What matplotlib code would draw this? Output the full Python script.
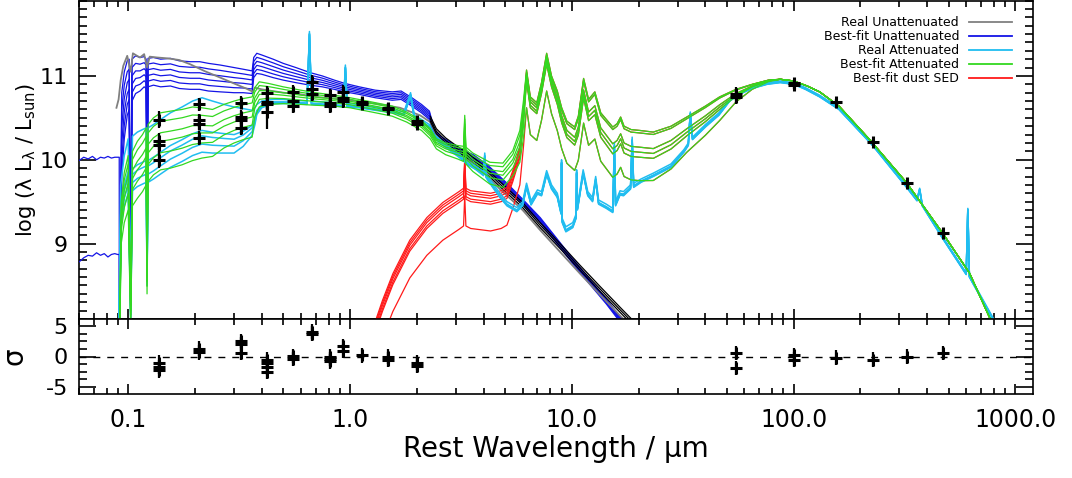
import numpy as np
import matplotlib
matplotlib.use("Agg")
import matplotlib.pyplot as plt
from matplotlib.lines import Line2D
from matplotlib.ticker import FixedLocator, FixedFormatter, LogLocator, NullFormatter, MultipleLocator

plt.rcParams['font.family'] = ['DejaVu Sans']
plt.rcParams['axes.unicode_minus'] = False

################################################################################
## Data
################################################################################

# best-fit unattenuated stellar SED: (lambda [um], top model log L, spread between models)
blue_nodes = [
    (0.0912, 7.60, 0.00), (0.0935, 10.80, 1.00), (0.0960, 11.05, 0.80), (0.0990, 11.18, 0.65),
    (0.1010, 11.20, 0.60), (0.1026, 8.60, 0.50), (0.1040, 11.20, 0.50), (0.1080, 11.24, 0.45),
    (0.1130, 11.22, 0.40), (0.1180, 11.23, 0.36), (0.1205, 11.20, 0.35), (0.1216, 9.75, 0.60),
    (0.1228, 11.21, 0.34), (0.1300, 11.22, 0.33), (0.1400, 11.20, 0.33), (0.1550, 11.21, 0.33),
    (0.1700, 11.18, 0.33), (0.1900, 11.17, 0.33), (0.2100, 11.17, 0.33), (0.2300, 11.15, 0.33),
    (0.2600, 11.13, 0.32), (0.3000, 11.10, 0.30), (0.3300, 11.08, 0.28), (0.3620, 11.06, 0.27),
    (0.3680, 11.22, 0.24), (0.3800, 11.27, 0.24), (0.4000, 11.25, 0.23), (0.4500, 11.20, 0.22),
    (0.5000, 11.15, 0.20), (0.5700, 11.10, 0.18), (0.6600, 11.04, 0.15), (0.7500, 11.00, 0.13),
    (0.8500, 10.95, 0.11), (0.9500, 10.91, 0.10), (1.1000, 10.87, 0.09), (1.3000, 10.83, 0.09),
    (1.5500, 10.81, 0.10), (1.7000, 10.82, 0.10), (1.9000, 10.74, 0.10), (2.1000, 10.66, 0.10),
    (2.2800, 10.58, 0.10), (2.4000, 10.36, 0.09), (2.5500, 10.28, 0.08), (2.7500, 10.23, 0.08),
    (3.1000, 10.14, 0.07), (3.6000, 10.06, 0.07), (4.2000, 9.93, 0.07), (5.1000, 9.72, 0.06),
    (6.0000, 9.53, 0.06), (7.2000, 9.31, 0.06), (8.5000, 9.07, 0.06), (10.100, 8.82, 0.06),
    (12.000, 8.58, 0.06), (14.300, 8.34, 0.06), (17.000, 8.08, 0.06), (20.000, 7.84, 0.06),
]
blue_frac = [0.0, 0.2, 0.4, 0.6, 0.8, 1.0]

# ionising continuum of two of the best-fit models
euv_lam = [0.0600, 0.0630, 0.0660, 0.0690, 0.0720, 0.0750, 0.0780, 0.0810, 0.0840, 0.0870, 0.0895, 0.0911, 0.0912]
euv_hi = [9.99, 10.03, 10.01, 10.04, 10.00, 10.03, 10.02, 10.04, 10.02, 10.03, 10.03, 10.03, 7.60]
euv_lo = [8.78, 8.83, 8.86, 8.85, 8.89, 8.86, 8.88, 8.84, 8.87, 8.88, 8.87, 8.87, 7.60]

# real unattenuated stellar SED
grey_nodes = [
    (0.0885, 10.62), (0.0905, 10.72), (0.0925, 10.95), (0.0950, 11.12), (0.0990, 11.24), (0.1026, 11.05),
    (0.1050, 11.27), (0.1080, 11.25), (0.1130, 11.22), (0.1180, 11.26), (0.1216, 11.10), (0.1250, 11.23),
    (0.1350, 11.22), (0.1500, 11.21), (0.1700, 11.19), (0.1900, 11.14), (0.2200, 11.06), (0.2600, 10.98),
    (0.3000, 10.91), (0.3400, 10.85), (0.3660, 10.81), (0.3720, 10.86), (0.4000, 10.84), (0.5000, 10.80),
    (0.6000, 10.78), (0.7000, 10.75), (0.8500, 10.73), (1.0000, 10.71), (1.3000, 10.67), (1.6800, 10.62),
    (2.0700, 10.53), (2.3000, 10.45), (2.4500, 10.30), (2.7000, 10.18), (2.9700, 10.10), (3.4700, 9.98),
    (4.0000, 9.85), (4.7400, 9.65), (6.0000, 9.40), (7.2000, 9.16), (9.0000, 8.88), (10.900, 8.64),
    (13.500, 8.38), (16.500, 8.14), (19.400, 7.96), (22.000, 7.80),
]

# black stellar tails
black_nodes = [
    (2.30, 10.49), (2.45, 10.34), (2.70, 10.23), (2.97, 10.15), (3.47, 10.03), (4.00, 9.90), (4.74, 9.71),
    (6.00, 9.46), (7.20, 9.22), (9.00, 8.95), (10.90, 8.71), (13.50, 8.45), (16.50, 8.21), (19.40, 8.02),
    (22.0, 7.86),
]
black_shift = [0.0, 0.03, -0.03]

# real attenuated SED: (lambda, top line, spread)
cyan_nodes = [
    (0.0905, 7.60, 0.00), (0.0925, 9.70, 0.50), (0.0960, 10.05, 0.60), (0.1000, 10.25, 0.65),
    (0.1026, 8.40, 0.30), (0.1045, 10.28, 0.65), (0.1100, 10.33, 0.65), (0.1160, 10.36, 0.65),
    (0.1205, 10.38, 0.65), (0.1216, 8.80, 0.30), (0.1228, 10.38, 0.65), (0.1300, 10.42, 0.65),
    (0.1400, 10.48, 0.65), (0.1550, 10.56, 0.65), (0.1750, 10.63, 0.65), (0.1950, 10.70, 0.65),
    (0.2150, 10.74, 0.65), (0.2400, 10.70, 0.62), (0.2700, 10.66, 0.58), (0.3000, 10.63, 0.55),
    (0.3300, 10.61, 0.45), (0.3620, 10.59, 0.30), (0.3727, 10.62, 0.20), (0.3800, 10.66, 0.12),
    (0.4000, 10.70, 0.08), (0.4500, 10.72, 0.05), (0.5000, 10.72, 0.05), (0.5600, 10.71, 0.04),
    (0.6400, 10.70, 0.04), (0.6563, 11.53, 0.04), (0.6700, 10.70, 0.04), (0.7500, 10.69, 0.04),
    (0.8500, 10.68, 0.04), (0.9350, 10.67, 0.04), (0.9530, 11.13, 0.04), (0.9700, 10.67, 0.04),
    (1.1000, 10.66, 0.04), (1.3000, 10.63, 0.04), (1.5500, 10.60, 0.04), (1.7500, 10.57, 0.04),
    (1.8750, 10.80, 0.04), (1.9500, 10.53, 0.04), (2.1000, 10.48, 0.04), (2.2800, 10.42, 0.04),
    (2.4000, 10.30, 0.04), (2.6000, 10.22, 0.04), (2.8500, 10.14, 0.04), (3.1000, 10.07, 0.04),
    (3.4000, 9.98, 0.04), (3.7000, 9.92, 0.04), (4.0000, 9.86, 0.05), (4.0500, 10.08, 0.05),
    (4.1000, 9.84, 0.05), (4.4000, 9.72, 0.05), (4.7400, 9.60, 0.05), (5.1000, 9.50, 0.05),
    (5.6500, 9.43, 0.05), (6.0000, 9.50, 0.05), (6.2500, 9.72, 0.05), (6.5500, 9.51, 0.05),
    (7.0000, 9.64, 0.05), (7.3000, 9.62, 0.05), (7.7000, 9.87, 0.05), (8.1000, 9.70, 0.05),
    (8.6000, 9.60, 0.05), (8.9500, 9.40, 0.05), (8.9900, 10.00, 0.05), (9.0500, 9.30, 0.05),
    (9.4000, 9.20, 0.06), (10.100, 9.25, 0.06), (10.450, 9.35, 0.05), (10.510, 9.88, 0.05),
    (10.600, 9.45, 0.05), (11.250, 9.88, 0.05), (11.800, 9.62, 0.05), (12.400, 9.55, 0.05),
    (12.810, 9.80, 0.05), (13.200, 9.52, 0.05), (14.300, 9.47, 0.05), (15.300, 9.42, 0.05),
    (15.550, 10.20, 0.05), (15.750, 9.50, 0.05), (16.500, 9.63, 0.05), (17.100, 9.62, 0.05),
    (18.400, 9.70, 0.05), (18.710, 10.27, 0.05), (19.000, 9.72, 0.05), (20.500, 9.77, 0.04),
    (23.300, 9.84, 0.04), (28.000, 9.95, 0.04), (32.000, 10.12, 0.03), (33.500, 10.20, 0.03),
    (34.200, 10.57, 0.03), (35.000, 10.27, 0.03), (40.000, 10.42, 0.03), (46.000, 10.56, 0.03),
    (51.500, 10.72, 0.02), (57.000, 10.80, 0.02), (65.000, 10.87, 0.02), (76.000, 10.92, 0.02),
    (87.000, 10.94, 0.02), (100.00, 10.92, 0.02), (113.00, 10.86, 0.02), (131.00, 10.77, 0.02),
    (160.00, 10.62, 0.02), (227.00, 10.19, 0.02), (323.00, 9.69, 0.02), (360.00, 9.53, 0.02),
    (370.00, 9.66, 0.02), (380.00, 9.47, 0.02), (470.00, 9.08, 0.02), (600.00, 8.65, 0.02),
    (610.00, 9.42, 0.02), (620.00, 8.62, 0.02), (790.00, 8.12, 0.02), (1000.0, 7.66, 0.02),
    (1300.0, 7.10, 0.02),
]
cyan_frac = [0.0, 0.6, 0.7, 0.85, 1.0]

# best-fit attenuated SED, stellar-dominated part: (lambda, top line, spread)
green_star_nodes = [
    (0.0912, 7.60, 0.00), (0.0930, 9.50, 0.50), (0.0960, 9.85, 0.60), (0.1000, 10.05, 0.65),
    (0.1026, 8.30, 0.30), (0.1045, 10.10, 0.65), (0.1100, 10.22, 0.68), (0.1160, 10.30, 0.68),
    (0.1205, 10.38, 0.68), (0.1216, 8.70, 0.30), (0.1228, 10.42, 0.68), (0.1300, 10.50, 0.68),
    (0.1400, 10.56, 0.68), (0.1550, 10.58, 0.68), (0.1750, 10.60, 0.66), (0.1950, 10.63, 0.64),
    (0.2150, 10.62, 0.60), (0.2400, 10.60, 0.56), (0.2700, 10.66, 0.52), (0.3000, 10.70, 0.50),
    (0.3300, 10.73, 0.49), (0.3620, 10.75, 0.48), (0.3720, 10.86, 0.35), (0.3900, 10.93, 0.30),
    (0.4300, 10.91, 0.25), (0.5000, 10.87, 0.20), (0.6000, 10.83, 0.17), (0.7000, 10.80, 0.15),
    (0.8500, 10.77, 0.13), (1.0000, 10.74, 0.12), (1.2500, 10.69, 0.12), (1.5500, 10.64, 0.12),
    (1.8000, 10.57, 0.12), (2.1000, 10.47, 0.12), (2.3000, 10.37, 0.12), (2.4500, 10.25, 0.12),
    (2.7000, 10.20, 0.14), (3.0500, 10.17, 0.16), (3.2500, 10.16, 0.18), (3.2900, 10.53, 0.30),
    (3.3300, 10.15, 0.20), (3.5800, 10.08, 0.22), (4.2700, 9.97, 0.26), (4.8900, 9.96, 0.29),
    (5.4200, 10.11, 0.30), (5.8300, 10.35, 0.38), (6.0500, 10.70, 0.44),
]
green_frac = [0.0, 0.15, 0.35, 0.5, 0.7, 1.0]

# best-fit dust SED: (lambda, top model, weight of PAH drop, weight of continuum drop)
dust_nodes = [
    (1.20, 7.80, 1.00, 0.00), (1.40, 8.32, 1.00, 0.00), (1.56, 8.64, 1.00, 0.00), (1.86, 9.04, 1.00, 0.00),
    (2.22, 9.31, 1.00, 0.00), (2.62, 9.49, 1.00, 0.00), (3.10, 9.62, 1.00, 0.00), (3.25, 9.66, 1.00, 0.00),
    (3.29, 10.02, 1.00, 0.00), (3.33, 9.66, 1.00, 0.00), (3.50, 9.63, 1.00, 0.00), (4.30, 9.60, 1.00, 0.00),
    (4.80, 9.63, 1.00, 0.00), (5.10, 9.67, 1.00, 0.00), (5.42, 9.87, 1.00, 0.00), (5.83, 10.15, 1.00, 0.00),
    (6.05, 10.60, 1.00, 0.00), (6.25, 11.07, 1.00, 0.00), (6.50, 10.75, 1.00, 0.00), (6.95, 10.68, 1.00, 0.00),
    (7.30, 10.92, 1.00, 0.00), (7.70, 11.27, 1.00, 0.00), (8.10, 11.00, 1.00, 0.00), (8.60, 10.82, 1.00, 0.15),
    (9.00, 10.62, 1.00, 0.25), (9.50, 10.46, 1.00, 0.35), (10.3, 10.39, 1.00, 0.45), (10.7, 10.52, 1.00, 0.50),
    (11.3, 10.97, 1.00, 0.55), (11.9, 10.72, 1.00, 0.65), (12.7, 10.81, 1.00, 0.75), (13.5, 10.56, 1.00, 0.85),
    (15.3, 10.39, 1.00, 1.00), (16.0, 10.43, 1.00, 1.00), (16.6, 10.51, 1.00, 1.00), (17.2, 10.40, 1.00, 1.00),
    (18.5, 10.36, 1.00, 1.00), (20.2, 10.35, 1.00, 1.00), (23.3, 10.33, 0.95, 1.00), (28.0, 10.40, 0.85, 0.85),
    (33.0, 10.51, 0.70, 0.70), (40.0, 10.64, 0.58, 0.58), (46.4, 10.75, 0.47, 0.47), (55.0, 10.84, 0.25, 0.25),
    (65.0, 10.90, 0.10, 0.10), (77.0, 10.95, 0.03, 0.03), (87.0, 10.96, 0.00, 0.00), (100., 10.94, 0.00, 0.00),
    (115., 10.88, 0.00, 0.00), (131., 10.81, 0.00, 0.00), (160., 10.64, 0.00, 0.00), (220., 10.24, 0.00, 0.00),
    (322., 9.73, 0.00, 0.00), (468., 9.13, 0.00, 0.00), (620., 8.65, 0.00, 0.00), (764., 8.12, 0.00, 0.00),
    (1000, 7.62, 0.00, 0.00), (1300, 7.00, 0.00, 0.00),
]
pah_drop = [0.0, 0.03, 0.06, 0.10, 0.13, 0.45]
cont_drop = [0.0, 0.0, 0.14, 0.16, 0.19, 0.15]

# photometry
phot_lam = [0.138, 0.138, 0.138, 0.138, 0.209, 0.209, 0.209, 0.209, 0.323, 0.323, 0.323, 0.323,
            0.423, 0.423, 0.423, 0.423, 0.553, 0.553, 0.553, 0.674, 0.674, 0.674, 0.813, 0.813, 0.813,
            0.93, 0.93, 0.93, 1.13, 1.13, 1.48, 1.48, 2.0, 2.0, 55.0, 55.0, 100.0, 100.0,
            156.0, 227.0, 323.0, 469.0]
phot_val = [10.48, 10.22, 10.18, 10.00, 10.66, 10.47, 10.43, 10.26, 10.68, 10.51, 10.47, 10.38,
            10.80, 10.69, 10.66, 10.57, 10.81, 10.70, 10.64, 10.93, 10.85, 10.78, 10.77, 10.68, 10.64,
            10.81, 10.74, 10.70, 10.69, 10.66, 10.62, 10.60, 10.46, 10.43, 10.79, 10.75, 10.91, 10.89,
            10.69, 10.21, 9.72, 9.13]
phot_err = [0.10, 0.10, 0.10, 0.10, 0.08, 0.08, 0.08, 0.08, 0.08, 0.08, 0.08, 0.08,
            0.08, 0.08, 0.08, 0.20, 0.08, 0.08, 0.08, 0.08, 0.08, 0.08, 0.08, 0.08, 0.08,
            0.08, 0.08, 0.08, 0.06, 0.06, 0.06, 0.06, 0.06, 0.06, 0.08, 0.08, 0.04, 0.04,
            0.04, 0.04, 0.04, 0.04]

# residuals in sigma
res_lam = [0.138, 0.138, 0.138, 0.209, 0.209, 0.323, 0.323, 0.323, 0.423, 0.423, 0.423, 0.423,
           0.553, 0.553, 0.674, 0.674, 0.813, 0.813, 0.813, 0.93, 0.93, 1.13, 1.48, 1.48, 2.0, 2.0,
           55.0, 55.0, 100.0, 100.0, 156.0, 227.0, 323.0, 469.0]
res_val = [-1.0, -1.7, -2.3, 1.3, 0.7, 2.6, 2.0, 0.6, -0.5, -1.0, -1.8, -2.6,
           0.1, -0.4, 4.1, 3.8, 0.0, -0.4, -0.8, 1.7, 0.9, 0.2, 0.0, -0.5, -1.0, -1.5,
           0.6, -1.9, 0.2, -0.5, -0.2, -0.5, 0.0, 0.6]

legend_labels = ["Real Unattenuated", "Best-fit Unattenuated", "Real Attenuated",
                 "Best-fit Attenuated", "Best-fit dust SED"]

c_grey, c_blue, c_cyan, c_green, c_red = "#808080", "#1414e6", "#20bdf0", "#33d820", "#ff1a1a"

################################################################################
## Helpers
################################################################################

def cols(nodes):
    arr = np.array(nodes, dtype=float)
    return [arr[:, i] for i in range(arr.shape[1])]

################################################################################
## Figure
################################################################################
fig = plt.figure(figsize=(10.72, 4.78), dpi=100)
ax = fig.add_axes([79/1072, 1-319/478, 954/1072, 318.5/478])
axr = fig.add_axes([79/1072, 1-394/478, 954/1072, 75/478])

lw = 0.9

# blue best-fit unattenuated
b_lam, b_top, b_spr = cols(blue_nodes)
for f in blue_frac:
    ax.plot(b_lam, b_top - f*b_spr, color=c_blue, lw=lw, zorder=3)
ax.plot(euv_lam, euv_hi, color=c_blue, lw=lw, zorder=3)
ax.plot(euv_lam, euv_lo, color=c_blue, lw=lw, zorder=3)

# grey real unattenuated
g_lam, g_val = cols(grey_nodes)
ax.plot(g_lam, g_val, color=c_grey, lw=1.3, zorder=3.4)

# black tails
k_lam, k_val = cols(black_nodes)
for s in black_shift:
    ax.plot(k_lam, k_val + s, color="k", lw=lw, zorder=3.5)

# red dust / green attenuated
d_lam, d_top, w_pah, w_cont = cols(dust_nodes)
gs_lam, gs_top, gs_spr = cols(green_star_nodes)
dust_models = [d_top - p*w_pah - c*w_cont for p, c in zip(pah_drop, cont_drop)]
for dm in dust_models:
    ax.plot(d_lam, dm, color=c_red, lw=lw, zorder=4)

# cyan real attenuated
c_lam, c_top, c_spr = cols(cyan_nodes)
for f in cyan_frac:
    ax.plot(c_lam, c_top - f*c_spr, color=c_cyan, lw=1.1, zorder=5)

mir = d_lam >= 6.2
for f, dm in zip(green_frac, dust_models):
    lam = np.concatenate([gs_lam, d_lam[mir]])
    val = np.concatenate([gs_top - f*gs_spr, dm[mir]])
    ax.plot(lam, val, color=c_green, lw=lw, zorder=6)

# photometry
ax.errorbar(phot_lam, phot_val, yerr=phot_err, fmt='+', color='k', ms=9, mew=2.2,
            elinewidth=1.6, capsize=0, zorder=10)

# residuals
axr.axhline(0, color='k', lw=1.0, ls=(0, (5, 5)), zorder=1)
axr.errorbar(res_lam, res_val, yerr=1.2, fmt='+', color='k', ms=9, mew=2.2,
             elinewidth=1.6, capsize=0, zorder=10)

# axes styling
for a in (ax, axr):
    a.set_xscale('log')
    a.set_xlim(0.06, 1200)
    a.xaxis.set_major_locator(FixedLocator([0.1, 1, 10, 100, 1000]))
    a.xaxis.set_minor_locator(LogLocator(base=10, subs=np.arange(2, 10), numticks=30))
    a.xaxis.set_minor_formatter(NullFormatter())
    a.tick_params(which='both', direction='in', top=True, right=True, width=1.2)
    a.tick_params(axis='x', which='major', length=7)
    a.tick_params(axis='x', which='minor', length=4)
    a.tick_params(axis='y', which='major', length=12, pad=8)
    a.tick_params(axis='y', which='minor', length=6)
    for sp in a.spines.values():
        sp.set_linewidth(1.2)

ax.set_ylim(8.1, 11.9)
ax.yaxis.set_major_locator(FixedLocator([9, 10, 11]))
ax.yaxis.set_minor_locator(MultipleLocator(0.1))
ax.xaxis.set_major_formatter(NullFormatter())
ax.tick_params(axis='y', labelsize=16)
ax.set_ylabel("log (λ L$_{\\mathregular{λ}}$ / L$_{\\mathregular{sun}}$)", fontsize=15)
ax.yaxis.set_label_coords(-0.043, 0.5)

axr.set_ylim(-6.2, 6.2)
axr.yaxis.set_major_locator(FixedLocator([-5, 0, 5]))
axr.yaxis.set_minor_locator(MultipleLocator(1.25))
axr.tick_params(axis='y', labelsize=16)
axr.xaxis.set_major_formatter(FixedFormatter(['0.1', '1.0', '10.0', '100.0', '1000.0']))
axr.tick_params(axis='x', labelsize=17, pad=10)
axr.set_ylabel("σ", fontsize=20)
axr.yaxis.set_label_coords(-0.053, 0.5)
axr.set_xlabel("Rest Wavelength / µm", fontsize=20, labelpad=2)

# legend (text left, line sample right)
for i, (lab, col) in enumerate(zip(legend_labels, [c_grey, c_blue, c_cyan, c_green, c_red])):
    y = 1 - (22 + 14*i)/478
    fig.text(959/1072, y, lab, ha='right', va='center', fontsize=9)
    fig.add_artist(Line2D([969/1072, 1012/1072], [y, y], color=col, lw=1.3))

fig.savefig("out.png", dpi=100)
